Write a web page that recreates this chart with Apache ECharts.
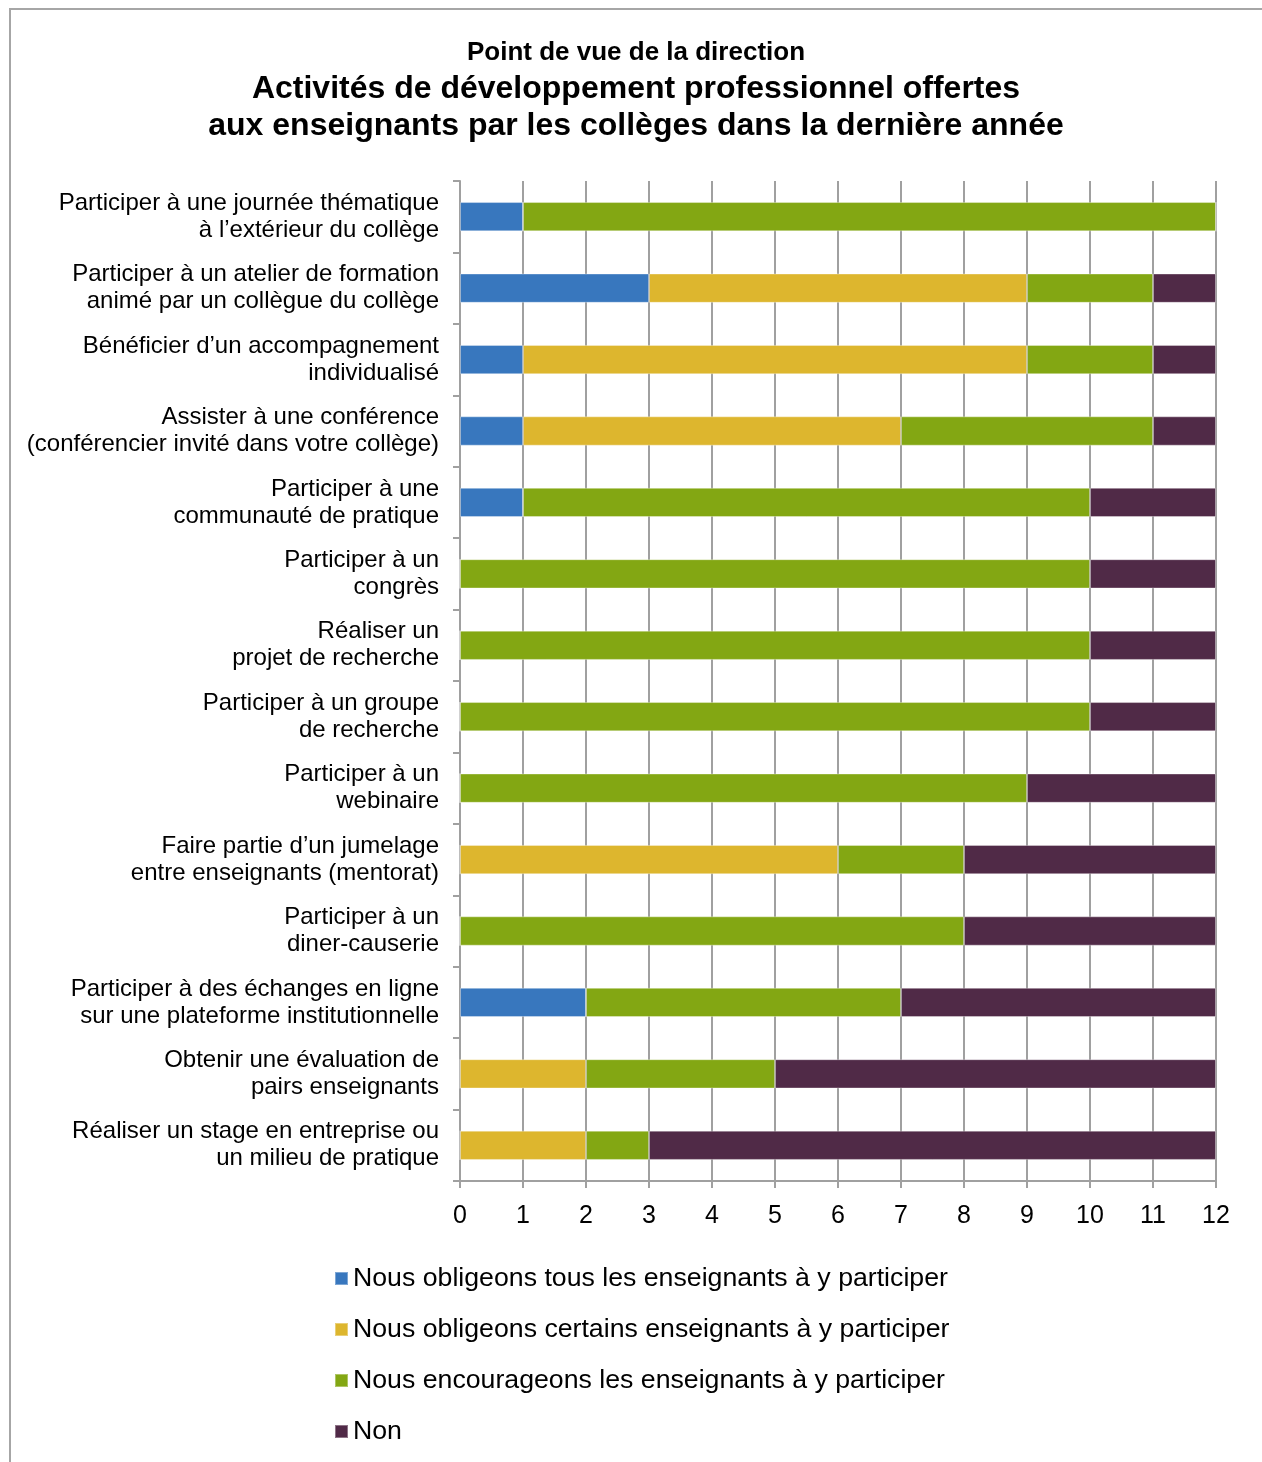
<!DOCTYPE html>
<html>
<head>
<meta charset="utf-8">
<script src="https://cdn.jsdelivr.net/npm/echarts@6/dist/echarts.min.js"></script>
<style>
  html, body { margin: 0; padding: 0; background: #fff; }
  #frame { position: absolute; left: 9px; top: 8px; width: 1300px; height: 1500px;
           border: 2px solid #a6a6a6; box-sizing: border-box; }
  #chart { position: absolute; left: 0; top: 0; width: 1262px; height: 1462px; }
</style>
</head>
<body>
<div id="frame"></div>
<div id="chart"></div>
<script>
// Activities, listed top to bottom
const categories = [
  "Participer à une journée thématique\nà l’extérieur du collège",
  "Participer à un atelier de formation\nanimé par un collègue du collège",
  "Bénéficier d’un accompagnement\nindividualisé",
  "Assister à une conférence\n(conférencier invité dans votre collège)",
  "Participer à une\ncommunauté de pratique",
  "Participer à un\ncongrès",
  "Réaliser un\nprojet de recherche",
  "Participer à un groupe\nde recherche",
  "Participer à un\nwebinaire",
  "Faire partie d’un jumelage\nentre enseignants (mentorat)",
  "Participer à un\ndiner-causerie",
  "Participer à des échanges en ligne\nsur une plateforme institutionnelle",
  "Obtenir une évaluation de\npairs enseignants",
  "Réaliser un stage en entreprise ou\nun milieu de pratique"
];

const seriesNames = [
  "Nous obligeons tous les enseignants à y participer",
  "Nous obligeons certains enseignants à y participer",
  "Nous encourageons les enseignants à y participer",
  "Non"
];

// Number of colleges per answer
const obligeTous     = [1, 3, 1, 1, 1, 0, 0, 0, 0, 0, 0, 2, 0, 0];
const obligeCertains = [0, 6, 8, 6, 0, 0, 0, 0, 0, 6, 0, 0, 2, 2];
const encourage      = [11, 2, 2, 4, 9, 10, 10, 10, 9, 2, 8, 5, 3, 1];
const non            = [0, 1, 1, 1, 2, 2, 2, 2, 3, 4, 4, 5, 7, 9];

const xTicks = [0, 1, 2, 3, 4, 5, 6, 7, 8, 9, 10, 11, 12];

const titleLines = [
  "Activités de développement professionnel offertes",
  "aux enseignants par les collèges dans la dernière année"
];
const subtitle = "Point de vue de la direction";

const colors = ["#3877be", "#ddb62e", "#83a713", "#502a47"];
const values = [obligeTous, obligeCertains, encourage, non];

const FONT = "'Liberation Sans', Arial, sans-serif";
const chart = echarts.init(document.getElementById('chart'), null, { renderer: 'canvas' });

chart.setOption({
  animation: false,
  textStyle: { fontFamily: FONT },
  graphic: [
    { type: 'text', x: 636, y: 53,
      style: { text: subtitle, fontFamily: FONT, fontSize: 26, fontWeight: 'bold',
               fill: '#000', align: 'center', verticalAlign: 'middle' } },
    { type: 'text', x: 636, y: 89,
      style: { text: titleLines[0], fontFamily: FONT, fontSize: 32, fontWeight: 'bold',
               fill: '#000', align: 'center', verticalAlign: 'middle' } },
    { type: 'text', x: 636, y: 126,
      style: { text: titleLines[1], fontFamily: FONT, fontSize: 32, fontWeight: 'bold',
               fill: '#000', align: 'center', verticalAlign: 'middle' } }
  ],
  grid: { left: 460, right: 46, top: 181, bottom: 281, containLabel: false },
  legend: {
    orient: 'vertical', left: 334, top: 1265, padding: 0,
    itemWidth: 13, itemHeight: 13, itemGap: 24,
    icon: 'rect',
    textStyle: { fontFamily: FONT, fontSize: 26.7, color: '#000' },
    data: seriesNames
  },
  xAxis: {
    type: 'value', min: 0, max: 12, interval: 1,
    axisLine: { show: true, lineStyle: { color: '#a0a0a0', width: 2 } },
    axisTick: { show: true, length: 7, lineStyle: { color: '#a0a0a0', width: 2 } },
    splitLine: { show: true, lineStyle: { color: '#a0a0a0', width: 2 } },
    axisLabel: { fontFamily: FONT, fontSize: 25, color: '#000', margin: 23,
                 formatter: v => xTicks.includes(v) ? String(v) : '' }
  },
  yAxis: {
    type: 'category', inverse: true, data: categories,
    axisLine: { show: true, lineStyle: { color: '#a0a0a0', width: 2 } },
    axisTick: { show: true, length: 7, alignWithLabel: false,
                lineStyle: { color: '#a0a0a0', width: 2 } },
    axisLabel: { fontFamily: FONT, fontSize: 24, lineHeight: 27, color: '#000',
                 margin: 21, align: 'right', padding: [4, 0, 0, 0] }
  },
  series: seriesNames.map((name, i) => ({
    name, type: 'bar', stack: 'total',
    barCategoryGap: '59%',
    itemStyle: { color: colors[i], borderColor: 'rgba(255,255,255,0.35)', borderWidth: 1 },
    emphasis: { disabled: true },
    data: values[i]
  }))
});
</script>
</body>
</html>
